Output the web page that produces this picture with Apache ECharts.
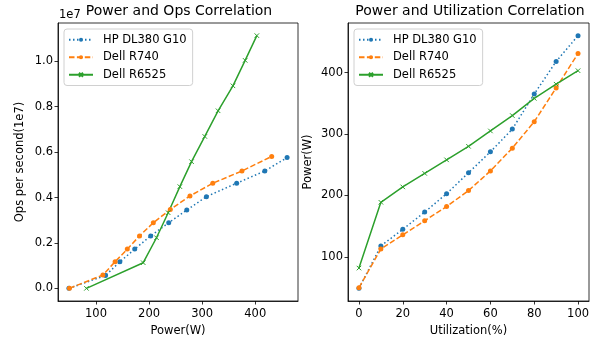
<!DOCTYPE html>
<html>
<head>
<meta charset="utf-8">
<script src="https://cdn.jsdelivr.net/npm/echarts@6/dist/echarts.min.js"></script>
<style>
  html, body { margin: 0; padding: 0; background: #fff; }
  #chart { width: 602px; height: 339px; }
</style>
</head>
<body>
<div id="chart"></div>
<script>
// utilization levels (%)
const utilization = [0, 10, 20, 30, 40, 50, 60, 70, 80, 90, 100];
// power (W) at each utilization level
const powerHp = [49, 118, 145, 173, 203, 237, 271, 308, 365, 418, 460];
const powerR740 = [50, 113, 136, 159, 182, 208, 240, 277, 320, 375, 431];
const powerR6525 = [82, 189, 214, 236, 258, 280, 305, 330, 358, 381, 403];
// ops per second, in units of 1e7
const opsHp = [0, 0.057, 0.117, 0.173, 0.231, 0.289, 0.345, 0.404, 0.463, 0.517, 0.576];
const opsR740 = [0, 0.059, 0.117, 0.173, 0.231, 0.289, 0.347, 0.407, 0.463, 0.517, 0.581];
const opsR6525 = [0, 0.113, 0.223, 0.333, 0.448, 0.558, 0.669, 0.782, 0.892, 1.004, 1.113];

const names = ['HP DL380 G10', 'Dell R740', 'Dell R6525'];
const powerTicks = [100, 200, 300, 400];
const opsTicks = [0, 0.2, 0.4, 0.6, 0.8, 1.0];
const utilTicks = [0, 20, 40, 60, 80, 100];

const FONT = 'DejaVu Sans';
const colors = ['#1f77b4', '#ff7f0e', '#2ca02c'];
const xMark = 'path://M0,0L10,10M10,0L0,10';

let myChart = echarts.init(document.getElementById('chart'));

function pad(arrs) {
  let all = [].concat(...arrs);
  let lo = Math.min(...all), hi = Math.max(...all);
  let m = (hi - lo) * 0.05;
  return [lo - m, hi + m];
}

function zip(xs, ys) {
  return xs.map((x, i) => [x, ys[i]]);
}

function axis(idx, range, ticks, name, gap, fmt, isY) {
  return {
    type: 'value',
    gridIndex: idx,
    min: range[0],
    max: range[1],
    name: name,
    nameLocation: 'middle',
    nameGap: gap,
    nameTextStyle: { fontFamily: FONT, fontSize: 11.5, color: '#000' },
    axisLine: { show: true, onZero: false, lineStyle: { color: '#000', width: 0.8 } },
    axisTick: { show: true, inside: false, length: 3.5, customValues: ticks, lineStyle: { color: '#000', width: 0.8 } },
    axisLabel: {
      show: true, customValues: ticks, margin: isY ? 5 : 7,
      fontFamily: FONT, fontSize: 11.5, color: '#000',
      formatter: fmt
    },
    splitLine: { show: false }
  };
}

function lineSeries(i, idx, data) {
  let styles = [
    { type: [1.5, 2.5], symbol: 'circle', size: 5 },
    { type: [5.5, 2.4], symbol: 'circle', size: 5 },
    { type: 'solid', symbol: xMark, size: 4.5 }
  ];
  let s = styles[i];
  return {
    name: names[i],
    type: 'line',
    xAxisIndex: idx,
    yAxisIndex: idx,
    data: data,
    symbol: s.symbol,
    symbolSize: s.size,
    showSymbol: true,
    animation: false,
    lineStyle: { color: colors[i], width: 1.5, type: s.type, cap: 'butt' },
    itemStyle: { color: colors[i], borderColor: colors[i], borderWidth: i === 2 ? 1 : 0 },
    emphasis: { disabled: true }
  };
}

function legend(left) {
  return {
    orient: 'vertical',
    left: left,
    top: 29,
    data: names,
    selectedMode: false,
    itemWidth: 24,
    itemHeight: 5,
    itemGap: 4,
    padding: [4, 6, 4, 4],
    backgroundColor: '#fff',
    borderColor: '#d0d0d0',
    borderWidth: 1,
    borderRadius: 3,
    textStyle: { fontFamily: FONT, fontSize: 11.5, color: '#000', lineHeight: 13.5, padding: [0, 0, 0, 5] }
  };
}

myChart.setOption({
  backgroundColor: '#fff',
  animation: false,
  title: [
    { text: 'Power and Ops Correlation', left: 179, top: 4, textAlign: 'center', padding: 0,
      textStyle: { fontFamily: FONT, fontSize: 14, fontWeight: 'normal', color: '#000' } },
    { text: 'Power and Utilization Correlation', left: 470, top: 4, textAlign: 'center', padding: 0,
      textStyle: { fontFamily: FONT, fontSize: 14, fontWeight: 'normal', color: '#000' } },
    { text: '1e7', left: 59, top: 9, padding: 0,
      textStyle: { fontFamily: FONT, fontSize: 11.5, fontWeight: 'normal', color: '#000' } }
  ],
  grid: [
    { left: 58, top: 23, width: 240, height: 278, outerBoundsMode: 'none', containLabel: false,
      show: true, borderColor: '#000', borderWidth: 0.8, backgroundColor: 'transparent' },
    { left: 348, top: 23, width: 241, height: 278, outerBoundsMode: 'none', containLabel: false,
      show: true, borderColor: '#000', borderWidth: 0.8, backgroundColor: 'transparent' }
  ],
  xAxis: [
    axis(0, pad([powerHp, powerR740, powerR6525]), powerTicks, 'Power(W)', 24, v => String(v), false),
    axis(1, pad([utilization]), utilTicks, 'Utilization(%)', 24, v => String(v), false)
  ],
  yAxis: [
    axis(0, pad([opsHp, opsR740, opsR6525]), opsTicks, 'Ops per second(1e7)', 32, v => v.toFixed(1), true),
    axis(1, pad([powerHp, powerR740, powerR6525]), powerTicks, 'Power(W)', 34, v => String(v), true)
  ],
  legend: [legend(64), legend(354)],
  series: [
    lineSeries(0, 0, zip(powerHp, opsHp)),
    lineSeries(1, 0, zip(powerR740, opsR740)),
    lineSeries(2, 0, zip(powerR6525, opsR6525)),
    lineSeries(0, 1, zip(utilization, powerHp)),
    lineSeries(1, 1, zip(utilization, powerR740)),
    lineSeries(2, 1, zip(utilization, powerR6525))
  ]
});
</script>
</body>
</html>
